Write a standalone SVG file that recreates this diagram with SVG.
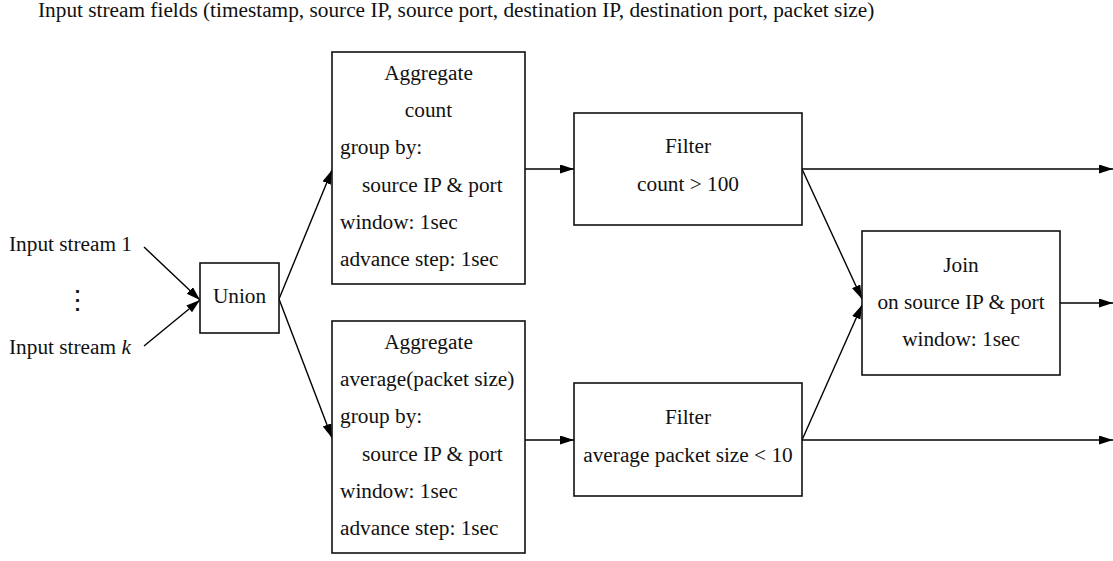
<svg xmlns="http://www.w3.org/2000/svg" width="1113" height="561" viewBox="0 0 1113 561">
<defs>
<marker id="arr" markerUnits="userSpaceOnUse" markerWidth="14" markerHeight="10" refX="14" refY="4.5" orient="auto"><path d="M0,0 L14,4.5 L0,9 z" fill="#000"/></marker>
<style>
text{font-family:"Liberation Serif","Times New Roman",serif;font-size:21.3px;fill:#111}
.c{text-anchor:middle}
.box{fill:#fff;stroke:#111;stroke-width:1.6}
.edge{fill:none;stroke:#000;stroke-width:1.4;marker-end:url(#arr)}
</style>
</defs>
<rect width="1113" height="561" fill="#fff"/>
<text x="38" y="17">Input stream fields (timestamp, source IP, source port, destination IP, destination port, packet size)</text>
<g id="inputs">
<text x="9" y="251">Input stream 1</text>
<text x="77" y="309" class="c" style="font-family:'DejaVu Serif',serif;font-size:27px">⋮</text>
<text x="9" y="354">Input stream <tspan font-style="italic">k</tspan></text>
</g>
<g id="connectors">
<path class="edge" d="M144,247 L200,300"/>
<path class="edge" d="M144,346 L200,300"/>
<path class="edge" d="M279,299 L332,170"/>
<path class="edge" d="M279,299 L332,438"/>
<path class="edge" d="M525,169 L574,169"/>
<path class="edge" d="M525,440 L574,440"/>
<path class="edge" d="M802,169 L1113,169"/>
<path class="edge" d="M802,169 L862,299"/>
<path class="edge" d="M802,440 L862,305"/>
<path class="edge" d="M802,440 L1113,440"/>
<path class="edge" d="M1060,303 L1113,303"/>
</g>
<g id="union">
<rect class="box" x="200" y="263" width="79" height="70"/>
<text x="239.5" y="303" class="c">Union</text>
</g>
<g id="agg-count">
<rect class="box" x="332" y="52" width="193" height="232"/>
<text x="428.5" y="80" class="c">Aggregate</text>
<text x="428.5" y="117" class="c">count</text>
<text x="340" y="154">group by:</text>
<text x="362" y="192">source IP &amp; port</text>
<text x="340" y="229">window: 1sec</text>
<text x="340" y="266">advance step: 1sec</text>
</g>
<g id="agg-avg">
<rect class="box" x="332" y="321" width="193" height="232"/>
<text x="428.5" y="349" class="c">Aggregate</text>
<text x="340" y="386">average(packet size)</text>
<text x="340" y="423">group by:</text>
<text x="362" y="461">source IP &amp; port</text>
<text x="340" y="498">window: 1sec</text>
<text x="340" y="535">advance step: 1sec</text>
</g>
<g id="filter-count">
<rect class="box" x="574" y="113" width="228" height="112"/>
<text x="688" y="153" class="c">Filter</text>
<text x="688" y="191" class="c">count &gt; 100</text>
</g>
<g id="filter-avg">
<rect class="box" x="574" y="383" width="228" height="113"/>
<text x="688" y="424" class="c">Filter</text>
<text x="688" y="462" class="c">average packet size &lt; 10</text>
</g>
<g id="join">
<rect class="box" x="862" y="231" width="198" height="144"/>
<text x="961" y="272" class="c">Join</text>
<text x="961" y="309" class="c">on source IP &amp; port</text>
<text x="961" y="346" class="c">window: 1sec</text>
</g>
</svg>
